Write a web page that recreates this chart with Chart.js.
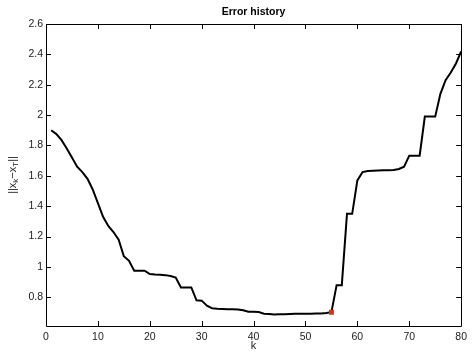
<!DOCTYPE html>
<html>
<head>
<meta charset="utf-8">
<script src="https://cdn.jsdelivr.net/npm/chart.js@4/dist/chart.umd.min.js"></script>
<style>
html,body{margin:0;padding:0;background:#fff;}
#wrap{width:472px;height:353px;position:relative;}
</style>
</head>
<body>
<div id="wrap"><canvas id="c" width="472" height="353"></canvas></div>
<script>
const titleText = "Error history";
const xLabel = "k";
const kValues = [];
for (let i = 1; i <= 80; i++) kValues.push(i);
const errorValues = [
  1.90, 1.875, 1.835, 1.78, 1.72, 1.66, 1.625, 1.58, 1.51, 1.42,
  1.33, 1.27, 1.23, 1.18, 1.07, 1.04, 0.975, 0.975, 0.975, 0.953,
  0.95, 0.948, 0.946, 0.94, 0.93, 0.865, 0.865, 0.865, 0.78, 0.778,
  0.745, 0.728, 0.724, 0.723, 0.722, 0.722, 0.72, 0.715, 0.705, 0.705,
  0.703, 0.692, 0.69, 0.687, 0.688, 0.689, 0.69, 0.691, 0.692, 0.692,
  0.692, 0.693, 0.694, 0.697, 0.702, 0.88, 0.88, 1.35, 1.35, 1.57,
  1.625, 1.632, 1.634, 1.635, 1.636, 1.637, 1.638, 1.645, 1.66, 1.733,
  1.733, 1.733, 1.99, 1.99, 1.99, 2.14, 2.23, 2.28, 2.34, 2.42
];
const markerK = [55];
const markerValues = [0.702];
const xTicks = [0, 10, 20, 30, 40, 50, 60, 70, 80];
const yTicks = [0.8, 1.0, 1.2, 1.4, 1.6, 1.8, 2.0, 2.2, 2.4, 2.6];

const FONT = "'Liberation Sans', Arial, Helvetica, sans-serif";

const boxPlugin = {
  id: 'boxPlugin',
  afterDraw(chart) {
    const ctx = chart.ctx;
    const a = chart.chartArea;
    const xs = chart.scales.x, ys = chart.scales.y;
    ctx.save();
    ctx.strokeStyle = '#000';
    ctx.lineWidth = 1;
    ctx.beginPath();
    ctx.rect(Math.round(a.left) + 0.5, Math.round(a.top) + 0.5,
             Math.round(a.right - a.left), Math.round(a.bottom - a.top));
    ctx.stroke();
    const tl = 5;
    ctx.beginPath();
    xTicks.forEach(v => {
      const px = Math.round(xs.getPixelForValue(v)) + 0.5;
      ctx.moveTo(px, a.bottom); ctx.lineTo(px, a.bottom - tl);
      ctx.moveTo(px, a.top); ctx.lineTo(px, a.top + tl);
    });
    yTicks.forEach(v => {
      const py = Math.round(ys.getPixelForValue(v)) + 0.5;
      ctx.moveTo(a.left, py); ctx.lineTo(a.left + tl, py);
      ctx.moveTo(a.right, py); ctx.lineTo(a.right - tl, py);
    });
    ctx.stroke();

    // title
    ctx.fillStyle = '#000';
    ctx.font = 'bold 10.5px ' + FONT;
    ctx.textAlign = 'center';
    ctx.textBaseline = 'middle';
    ctx.fillText(titleText, (a.left + a.right) / 2, 12);

    // x label
    ctx.font = '11px ' + FONT;
    ctx.fillStyle = '#222';
    ctx.fillText(xLabel, (a.left + a.right) / 2, 346);

    // y label ||x_k - x_T|| rotated
    ctx.translate(13, (a.top + a.bottom) / 2);
    ctx.rotate(-Math.PI / 2);
    const big = '11px ' + FONT, small = '8px ' + FONT;
    const parts = [
      {t: '||x', f: big, dy: 0},
      {t: 'k', f: small, dy: 3},
      {t: '\u2212x', f: big, dy: 0},
      {t: 'T', f: small, dy: 3},
      {t: '||', f: big, dy: 0}
    ];
    let total = 0;
    parts.forEach(p => { ctx.font = p.f; p.w = ctx.measureText(p.t).width; total += p.w; });
    let x0 = -total / 2;
    ctx.textAlign = 'left';
    parts.forEach(p => {
      ctx.font = p.f;
      ctx.fillText(p.t, x0, p.dy);
      x0 += p.w;
    });
    ctx.restore();
  }
};

const lineData = kValues.map((k, i) => ({x: k, y: errorValues[i]}));
const markerData = markerK.map((k, i) => ({x: k, y: markerValues[i]}));

new Chart(document.getElementById('c'), {
  type: 'line',
  data: {
    datasets: [
      {
        data: markerData,
        showLine: false,
        pointStyle: 'rect',
        pointRadius: 3.5,
        pointBackgroundColor: 'rgb(225,45,20)',
        pointBorderColor: 'rgb(225,45,20)',
        borderWidth: 0,
        order: 0
      },
      {
        data: lineData,
        borderColor: '#000',
        borderWidth: 2,
        pointRadius: 0,
        fill: false,
        tension: 0,
        order: 1
      }
    ]
  },
  options: {
    responsive: false,
    animation: false,
    devicePixelRatio: 1,
    layout: {padding: {top: 24, right: 5, left: 0, bottom: 0}},
    plugins: {legend: {display: false}, tooltip: {enabled: false}, title: {display: false}},
    scales: {
      x: {
        type: 'linear',
        min: 0, max: 80,
        afterBuildTicks: s => { s.ticks = xTicks.map(v => ({value: v})); },
        afterFit: s => { s.height = 27; },
        grid: {display: false, drawTicks: false},
        border: {display: false},
        ticks: {padding: 5, color: '#222', font: {family: FONT, size: 10.5}, maxRotation: 0,
                callback: v => String(v)}
      },
      y: {
        type: 'linear',
        min: 0.611, max: 2.6,
        afterBuildTicks: s => { s.ticks = yTicks.map(v => ({value: v})); },
        afterFit: s => { s.width = 46; },
        grid: {display: false, drawTicks: false},
        border: {display: false},
        ticks: {padding: 3, color: '#222', font: {family: FONT, size: 10.5},
                callback: v => String(Math.round(v * 10) / 10)}
      }
    }
  },
  plugins: [boxPlugin]
});
</script>
</body>
</html>
